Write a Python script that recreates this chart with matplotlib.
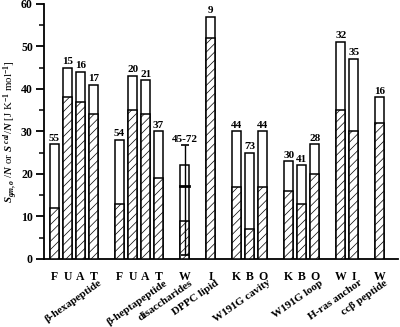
import matplotlib
matplotlib.use('Agg')
from matplotlib import pyplot as plt

plt.rcParams['font.family'] = ['Liberation Serif', 'DejaVu Serif']
plt.rcParams['font.weight'] = 'bold'
plt.rcParams['mathtext.fontset'] = 'custom'
plt.rcParams['mathtext.rm'] = 'Liberation Serif:bold'
plt.rcParams['mathtext.it'] = 'Liberation Serif:italic:bold'
plt.rcParams['mathtext.bf'] = 'Liberation Serif:bold'
plt.rcParams['hatch.linewidth'] = 0.5

# data
groups = ['β-hexapeptide', 'β-heptapeptide', 'disaccharides', 'DPPC lipid',
          'W191G cavity', 'W191G loop', 'H-ras anchor', 'ccβ peptide']
letters = [['F', 'U', 'A', 'T'], ['F', 'U', 'A', 'T'], ['W'], ['I'],
           ['K', 'B', 'O'], ['K', 'B', 'O'], ['W', 'I'], ['W']]
totals = [27, 45, 44, 41, 28, 43, 42, 30, 22, 57, 30, 25, 30, 23, 22, 27, 51, 47, 38]
hatched = [12, 38, 37, 34, 13, 35, 34, 19, 9, 52, 17, 7, 17, 16, 13, 20, 35, 30, 32]
counts = ['55', '15', '16', '17', '54', '20', '21', '37', '45-72', '9',
          '44', '73', '44', '30', '41', '28', '32', '35', '16']
dis_range = [1, 26.7]
dis_mark = 17.2

# bar positions: one empty slot between groups
x = []
ends = []
pos = 0
for g in letters:
    for _ in g:
        x.append(pos)
        pos += 1
    ends.append(pos - 1)
    pos += 1
tick_letters = [l for g in letters for l in g]

fig = plt.figure(figsize=(4.0, 3.27), dpi=100)
ax = fig.add_axes([0.11, 0.208, 0.885, 0.78])

w = 0.68
ax.bar(x, totals, width=w, color='white', edgecolor='black', linewidth=1.1, zorder=2)
ax.bar(x, hatched, width=w, color='white', edgecolor='black', linewidth=1.1,
       hatch='////', zorder=3)

# disaccharide range
i_dis = counts.index('45-72')
xd = x[i_dis]
ax.errorbar([xd], [(dis_range[0] + dis_range[1]) / 2],
            yerr=[[(dis_range[1] - dis_range[0]) / 2]], fmt='none',
            ecolor='black', elinewidth=1.0, capsize=3, capthick=1.2, zorder=4)
ax.plot([xd - w / 2, xd + w / 2], [dis_mark, dis_mark], color='black', lw=2, zorder=4)

for i, (xi, t, c) in enumerate(zip(x, totals, counts)):
    top = dis_range[1] if i == i_dis else t
    ax.text(xi, top + 0.4, c, ha='center', va='bottom', fontsize=8, fontweight='bold')

ax.set_xlim(-0.81, 26.4)
ax.set_ylim(0, 60)
ax.spines['top'].set_visible(False)
ax.spines['right'].set_visible(False)
ax.spines['left'].set_linewidth(1.3)
ax.spines['bottom'].set_linewidth(1.3)

ax.set_yticks(range(0, 61, 10))
ax.set_yticks(range(5, 60, 10), minor=True)
ax.tick_params(axis='y', which='major', length=6, width=1.3, labelsize=8.5, pad=2)
ax.tick_params(axis='y', which='minor', length=3.5, width=1.1)
for lab in ax.get_yticklabels():
    lab.set_fontweight('bold')

ax.set_xticks(x)
ax.set_xticklabels(tick_letters, fontsize=8.5, fontweight='bold')
ax.tick_params(axis='x', length=0, pad=9)

for g, e in zip(groups, ends):
    ax.text(e + 0.55, -0.09, g, transform=ax.get_xaxis_transform(),
            rotation=35, rotation_mode='anchor', ha='right', va='center',
            fontsize=8, fontweight='bold')

ax.set_ylabel(r'$S_{gm,o}$ /$N$ or $S^{\ cal}$/$N$ [J K$^{-1}$ mol$^{-1}$]',
              fontsize=7.8, labelpad=1)

plt.savefig('out.png', dpi=100)
